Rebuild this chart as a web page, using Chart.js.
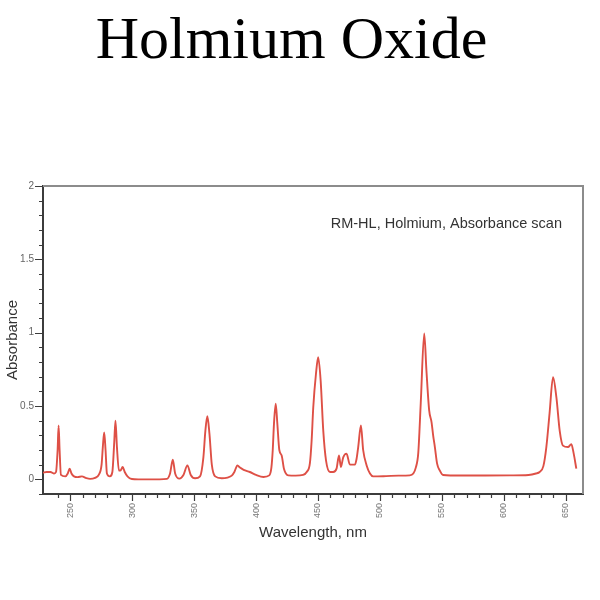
<!DOCTYPE html>
<html>
<head>
<meta charset="utf-8">
<title>Holmium Oxide</title>
<script src="https://cdn.jsdelivr.net/npm/chart.js@4.4.1/dist/chart.umd.min.js"></script>
<style>
  html, body { margin: 0; padding: 0; background: #fff; }
  #wrap { width: 600px; height: 600px; }
</style>
</head>
<body>
<div id="wrap"><canvas id="chart"></canvas></div>
<script>
  // wavelength (nm) and absorbance
  const wavelengths = [
    228, 231, 234, 237, 238.5, 239.8, 240.6, 241.4, 242.5, 246, 248, 249.5, 251, 253, 256, 259.4,
    263, 266, 270, 273, 275.3, 276.3, 277.4, 278.5, 279.6, 282, 284, 285.5, 286.5, 287.7, 289.3,
    290.5, 292.3, 294, 296.2, 299.7, 305, 315, 322, 328, 330.6, 332.8, 334.7, 338.2, 341.4, 344.6,
    347.3, 350.8, 354.8, 357.5, 359.1, 360.7, 362.4, 364.3, 367, 372.3, 377, 380.4, 382.5, 385,
    387, 390, 395, 400, 406, 410.7, 412.4, 413.5, 414.5, 415.9, 417.2, 418.8, 420.7, 422.6, 426,
    432, 438, 440.9, 443.5, 444.9, 446.2, 448.4, 450.2, 452.2, 454.3, 456.5, 459.7, 462.3, 465,
    467, 468.5, 470.4, 473.1, 475.8, 479.8, 481.2, 482.5, 484.7, 486.5, 489.3, 492, 494.6, 505,
    515, 524, 527, 529, 531, 533, 535.8, 537.6, 539.8, 541.7, 543, 544.4, 546.2, 548.4, 551, 565,
    585, 605, 620, 626, 629, 632, 634.4, 637, 639.8, 642.5, 645.2, 647.8, 651.9, 654.6, 656.5, 658.6
  ];
  const absorbance = [
    0.045, 0.05, 0.05, 0.04, 0.05, 0.2, 0.367, 0.2, 0.03, 0.02, 0.04, 0.072, 0.04, 0.02, 0.015, 0.02,
    0.008, 0.003, 0.01, 0.03, 0.1, 0.22, 0.32, 0.2, 0.04, 0.02, 0.05, 0.25, 0.40, 0.22, 0.06,
    0.06, 0.084, 0.05, 0.02, 0.002, 0, 0, 0, 0.003, 0.04, 0.134, 0.04, 0.005, 0.03, 0.095,
    0.03, 0.007, 0.02, 0.15, 0.33, 0.43, 0.31, 0.10, 0.02, 0.007, 0.012, 0.025, 0.05, 0.095,
    0.08, 0.065, 0.05, 0.03, 0.016, 0.027, 0.08, 0.2, 0.38, 0.515, 0.38, 0.2, 0.163, 0.07, 0.027,
    0.025, 0.03, 0.05, 0.11, 0.265, 0.49, 0.72, 0.832, 0.67, 0.33, 0.13, 0.05, 0.05, 0.073,
    0.163, 0.084, 0.15, 0.175, 0.1, 0.1, 0.14, 0.22, 0.367, 0.2, 0.095, 0.04, 0.02, 0.022,
    0.025, 0.027, 0.04, 0.08, 0.18, 0.52, 0.995, 0.74, 0.47, 0.39, 0.3, 0.22, 0.107, 0.06, 0.03, 0.026,
    0.026, 0.027, 0.03, 0.04, 0.05, 0.09, 0.22, 0.45, 0.696, 0.56, 0.33, 0.23, 0.22, 0.24, 0.175, 0.073
  ];

  const xRange = [228, 664];
  const yRange = [-0.1, 2];
  const xMajorStep = 50;
  const yMajorStep = 0.5;
  const traceLabel = 'RM-HL, Holmium, Absorbance scan';

  const isMultiple = (v, step) => Math.abs(v / step - Math.round(v / step)) < 1e-6;

  // minor/major tick marks drawn outside the plot, plus the grey top/right frame
  const frameTicks = {
    id: 'frameTicks',
    afterDraw(chart) {
      const { ctx, chartArea: a, scales } = chart;
      ctx.save();
      ctx.strokeStyle = '#8c8c8c';
      ctx.lineWidth = 2;
      ctx.beginPath();
      ctx.moveTo(a.left, a.top);
      ctx.lineTo(a.right, a.top);
      ctx.lineTo(a.right, a.bottom);
      ctx.stroke();

      ctx.strokeStyle = '#3c3c3c';
      ctx.lineWidth = 1.2;
      ctx.beginPath();
      scales.x.ticks.forEach(t => {
        const px = Math.round(scales.x.getPixelForValue(t.value)) + 0.5;
        const len = isMultiple(t.value, xMajorStep) ? 7 : 4;
        ctx.moveTo(px, a.bottom);
        ctx.lineTo(px, a.bottom + len);
      });
      scales.y.ticks.forEach(t => {
        const py = Math.round(scales.y.getPixelForValue(t.value)) + 0.5;
        const len = isMultiple(t.value, yMajorStep) ? 8 : 4;
        ctx.moveTo(a.left, py);
        ctx.lineTo(a.left - len, py);
      });
      ctx.stroke();

      ctx.fillStyle = '#333';
      ctx.font = '14.5px "Liberation Sans", Arial, sans-serif';
      ctx.textAlign = 'right';
      ctx.textBaseline = 'alphabetic';
      ctx.fillText(traceLabel, 562, 228);
      ctx.restore();
    }
  };

  const whiteBg = {
    id: 'whiteBg',
    beforeDraw(chart) {
      const { ctx, width, height } = chart;
      ctx.save();
      ctx.fillStyle = '#fff';
      ctx.fillRect(0, 0, width, height);
      ctx.restore();
    }
  };

  new Chart(document.getElementById('chart'), {
    type: 'line',
    data: {
      datasets: [{
        label: traceLabel,
        data: wavelengths.map((w, i) => ({ x: w, y: absorbance[i] })),
        borderColor: '#de5046',
        borderWidth: 1.9,
        pointRadius: 0,
        fill: false,
        cubicInterpolationMode: 'monotone'
      }]
    },
    options: {
      responsive: true,
      maintainAspectRatio: false,
      animation: false,
      layout: { padding: { top: 0, right: 17, bottom: 0, left: 0 } },
      plugins: {
        legend: { display: false },
        tooltip: { enabled: false },
        title: {
          display: true,
          text: 'Holmium Oxide',
          color: '#000',
          font: { family: '"Liberation Serif", "Times New Roman", serif', size: 60, weight: 'normal', lineHeight: 1.2 },
          padding: { top: 6, bottom: 108 }
        }
      },
      scales: {
        x: {
          type: 'linear',
          min: xRange[0],
          max: xRange[1],
          afterFit: s => { s.height = 106; },
          afterBuildTicks: s => { s.ticks = s.ticks.filter(t => isMultiple(t.value, 10)); },
          grid: { display: false, drawTicks: false },
          border: { display: true, color: '#3c3c3c', width: 2 },
          ticks: {
            stepSize: 10,
            autoSkip: false,
            minRotation: 90,
            maxRotation: 90,
            padding: 9,
            color: '#777',
            font: { family: '"Liberation Sans", Arial, sans-serif', size: 9 },
            callback: v => isMultiple(v, xMajorStep) ? String(Math.round(v)) : ''
          },
          title: {
            display: true,
            text: 'Wavelength, nm',
            color: '#333',
            font: { family: '"Liberation Sans", Arial, sans-serif', size: 15 },
            padding: { top: 0, bottom: 58 }
          }
        },
        y: {
          min: yRange[0],
          max: yRange[1],
          afterFit: s => { s.width = 43; },
          grid: { display: false, drawTicks: false },
          border: { display: true, color: '#3c3c3c', width: 2 },
          ticks: {
            stepSize: 0.1,
            autoSkip: false,
            padding: 9,
            color: '#666',
            font: { family: '"Liberation Sans", Arial, sans-serif', size: 10 },
            callback: v => isMultiple(v, yMajorStep) ? String(Math.round(v * 10) / 10) : ''
          },
          title: {
            display: true,
            text: 'Absorbance',
            color: '#333',
            font: { family: '"Liberation Sans", Arial, sans-serif', size: 15 },
            padding: { top: 4, bottom: 0 }
          }
        }
      }
    },
    plugins: [whiteBg, frameTicks]
  });
</script>
</body>
</html>
